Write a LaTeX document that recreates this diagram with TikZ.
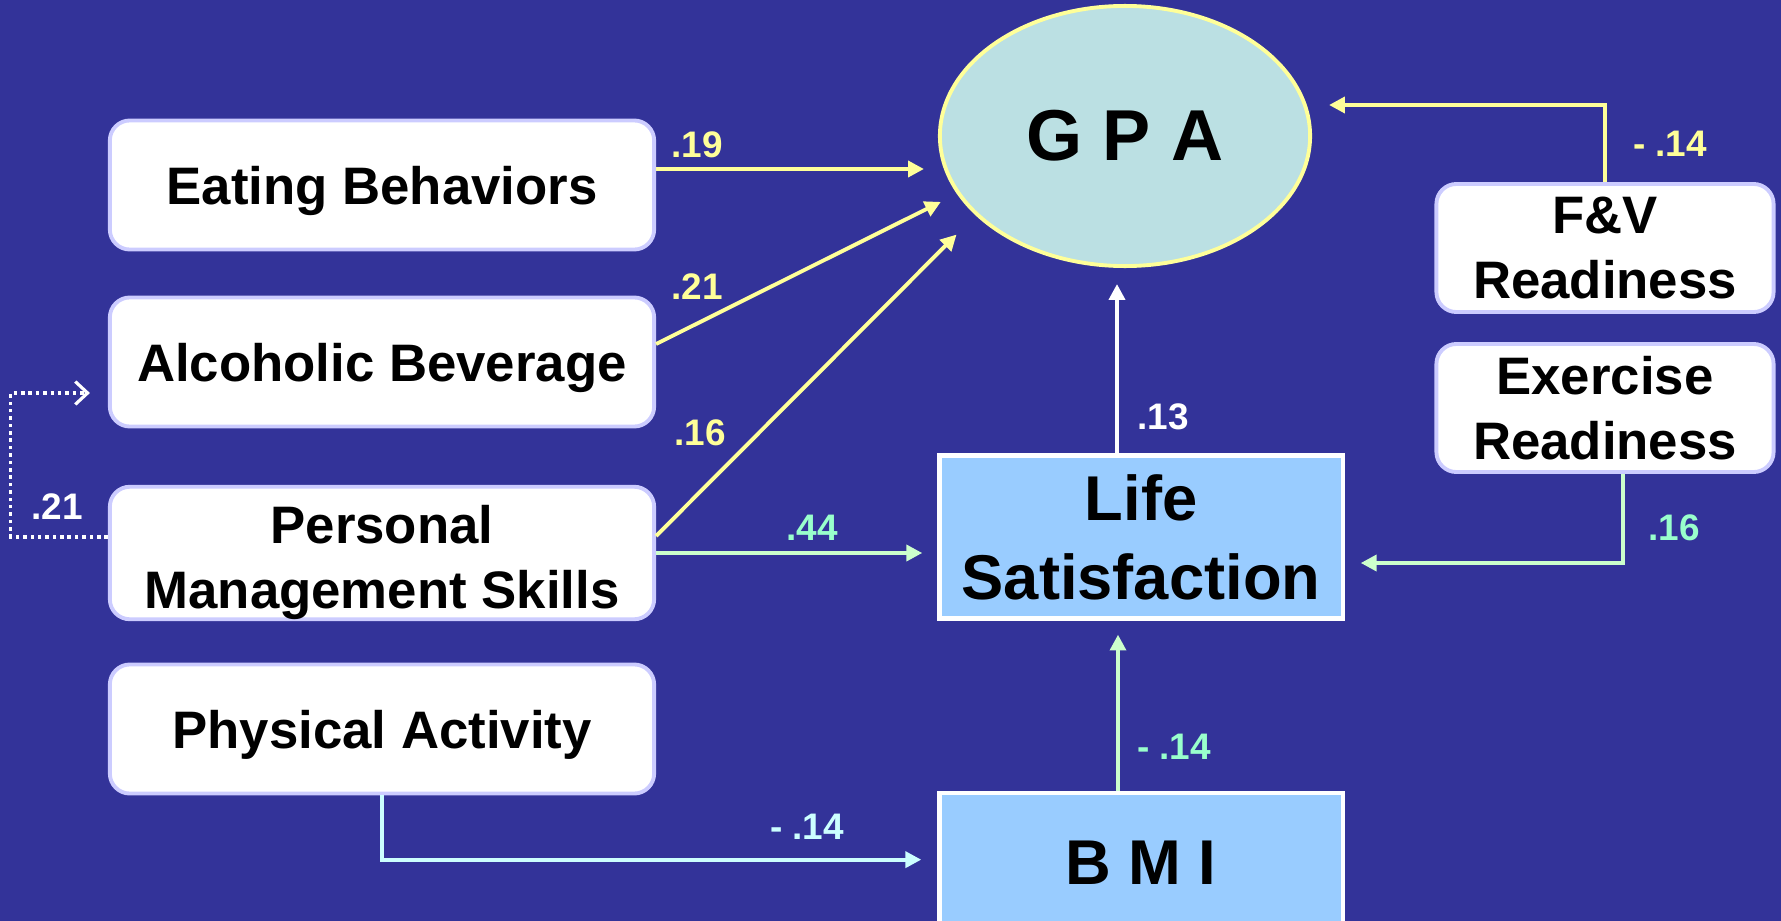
\documentclass[tikz,border=0pt]{standalone}
\usepackage{fontspec}
\setmainfont{Liberation Sans}
\usetikzlibrary{arrows.meta,shapes.geometric,calc}

\definecolor{bgblue}{HTML}{333399}
\definecolor{linkyellow}{HTML}{FFFF99}
\definecolor{linkgreen}{HTML}{CCFFCC}
\definecolor{labelgreen}{HTML}{99FFCC}
\definecolor{linkcyan}{HTML}{CCFFFF}
\definecolor{boxedge}{HTML}{CCCCFF}
\definecolor{gpafill}{HTML}{BBE0E3}
\definecolor{latentfill}{HTML}{99CCFF}

\newcommand{\topstrut}[1]{\rule{0pt}{#1}}

\begin{document}
\begin{tikzpicture}[x=0.01cm, y=-0.01cm,
  obsbox/.style={draw=boxedge, fill=white, line width=1.1pt, rounded corners=0.2cm,
    minimum width=5.44cm, minimum height=1.29cm, inner sep=0pt, align=center,
    font=\fontsize{15}{18.5}\selectfont\bfseries},
  readybox/.style={obsbox, minimum width=3.37cm, minimum height=1.28cm},
  outbox/.style={draw=white, fill=latentfill, line width=1.2pt,
    minimum width=4.03cm, minimum height=1.63cm, inner sep=0pt, align=center,
    font=\fontsize{18}{22.5}\selectfont\bfseries},
  link/.style={line width=1.1pt, -{Triangle[length=4.5pt,width=4.5pt]}},
  coef/.style={font=\fontsize{10.5}{12}\selectfont\bfseries, inner sep=0pt},
]
\useasboundingbox (0,0) rectangle (1781,921);
\fill[bgblue] (0,0) rectangle (1781,921);
\clip (0,0) rectangle (1781,921);

% observed predictors
\node[obsbox] (eat) at (382,185) {\topstrut{14pt}Eating Behaviors};
\node[obsbox] (alc) at (382,362) {\topstrut{14pt}Alcoholic Beverage};
\node[obsbox] (pms) at (382,553) {\topstrut{16pt}Personal\\Management Skills};
\node[obsbox] (pa)  at (382,729) {\topstrut{14pt}Physical Activity};
\node[readybox] (fv)  at (1605,248) {F\&V\\Readiness};
\node[readybox] (exr) at (1605,408) {Exercise\\Readiness};

% outcomes
\node[ellipse, draw=linkyellow, fill=gpafill, line width=1.1pt,
  minimum width=3.70cm, minimum height=2.60cm, inner sep=0pt,
  font=\fontsize{20.5}{24}\selectfont\bfseries] (gpa) at (1125,136) {G P A};
\node[outbox] (life) at (1141,537) {Life\\Satisfaction};
\node[outbox, anchor=north, text depth=6.7pt] (bmi) at (1141,791) {B M I};

% paths into GPA
\coordinate (eatout) at ($(eat.east)+(0,-16)$);
\draw[link, linkyellow, shorten >=0.14cm] (eatout) -- (eatout -| gpa.west);
\draw[link, linkyellow, shorten >=0.18cm] ($(alc.east)+(0,-18)$) -- (gpa.199);
\draw[link, linkyellow, shorten >=0.27cm] ($(pms.east)+(0,-17)$) -- (gpa.208);
\coordinate (lsup) at ($(life.north)+(-24,0)$);
\draw[link, white, shorten >=0.16cm] (lsup) -- (lsup |- gpa.south);
\draw[link, linkyellow] (fv.north) |- ($(gpa.east)+(17,-31)$);

% paths into Life Satisfaction
\draw[link, linkgreen, shorten >=0.15cm] (pms.east) -- (pms.east -| life.west);
\coordinate (exrout) at ($(exr.south)+(18,0)$);
\draw[link, linkgreen] (exrout) |- ($(life.east)+(16,26)$);
\coordinate (bmiup) at ($(bmi.north)+(-23,0)$);
\draw[link, linkgreen, shorten >=0.14cm] (bmiup) -- (bmiup |- life.south);

% path into BMI
\draw[link, linkcyan] (pa.south) |- ($(bmi.west)+(-16,-15)$);

% correlation between the management skills and alcohol use
\coordinate (pmsleft) at ($(pms.west)+(0,-16)$);
\coordinate (dotcorner) at ($(alc.west)+(-97,31)$);
\draw[white, line width=0.9pt, dash pattern=on 1pt off 1.1pt,
  -{Straight Barb[length=3.5pt,width=6.5pt,line width=0.9pt]}]
  (pmsleft) -| (dotcorner) -- ($(alc.west)+(-18,31)$);

% coefficients
\node[coef, text=linkyellow] (c19) at (697,145) {.19};
\node[coef, text=linkyellow] (c21) at (697,287) {.21};
\node[coef, text=linkyellow] (c16) at (700,433) {.16};
\node[coef, text=labelgreen] (c44) at (812,528) {.44};
\node[coef, text=white] (c13) at (1163,417) {.13};
\node[coef, text=linkyellow] (cfv) at (1670,144) {- .14};
\node[coef, text=labelgreen] (cex) at (1674,528) {.16};
\node[coef, text=labelgreen] (cbmi) at (1174,747) {- .14};
\node[coef, text=linkcyan] (cpa) at (807,827) {- .14};
\node[coef, text=white] (cdot) at (57,507) {.21};
\end{tikzpicture}
\end{document}
